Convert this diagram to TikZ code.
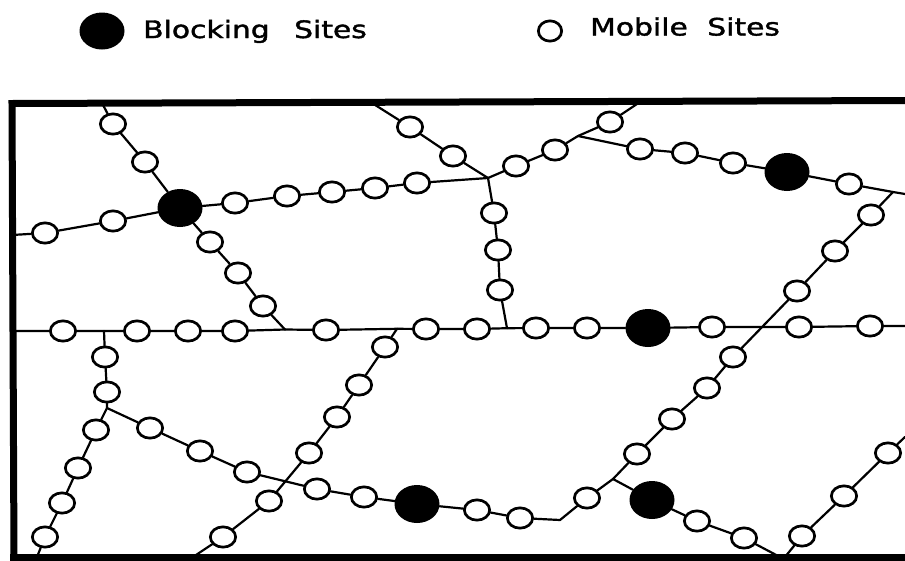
\documentclass[tikz,border=0pt]{standalone}
\usepackage{fontspec}
\usetikzlibrary{shapes.geometric}
\newfontfamily\legendfont[FakeStretch=1.24,FakeBold=1.6]{DejaVu Sans}
\begin{document}
\begin{tikzpicture}[x=1pt,y=-1pt,
  mob/.style={ellipse,draw=black,fill=white,line width=2.7pt,inner sep=0pt,
              minimum width=25.3pt,minimum height=20.3pt},
  blk/.style={ellipse,fill=black,inner sep=0pt,minimum width=45pt,minimum height=38pt},
  wire/.style={line width=2.2pt,line cap=round,line join=round},
  frame/.style={line width=7pt},
  legtext/.style={anchor=base west,inner sep=0pt,font=\legendfont\fontsize{24}{28}\selectfont}]
\useasboundingbox (0,0) rectangle (905,560);

% ---- legend ----
\node[blk,minimum height=37pt] (lb) at (102,31) {};
\node[legtext] (lbt) at (143,38) {Blocking\hspace{15pt} Sites};
\node[mob,minimum width=23.3pt] (lm) at (550,31) {};
\node[legtext] (lmt) at (590,35.5) {Mobile\hspace{10pt} Sites};

% ---- blocking sites ----
\node[blk] (b1) at (180,208) {};
\node[blk] (b2) at (787,172) {};
\node[blk] (b3) at (648,328) {};
\node[blk] (b4) at (417,504) {};
\node[blk] (b5) at (652,500) {};

% ---- mobile sites ----
\foreach \n/\x/\y in {
  a1/113/124, a2/145/162, a3/45/233, a4/113/221,
  a5/235/203, a6/287/196, a7/332/192, a8/375/188, a9/417/183,
  a10/210/242, a11/238/273, a12/263/306,
  a13/410/127, a14/453/156,
  a15/494/213, a16/498/250, a17/500/290,
  a18/516/166, a19/555/150, a20/610/122,
  a21/640/149, a22/685/153, a23/733/163, a24/849/184,
  a25/63/331, a26/137/331, a27/188/331, a28/235/331, a29/326/330,
  a30/426/329, a31/477/329, a32/536/328, a33/587/328,
  a34/712/327, a35/799/327, a36/870/326,
  a37/871/215, a38/835/251, a39/797/291, a40/733/357, a41/707/388,
  a42/672/419, a43/637/454, a44/587/498, a45/520/518, a46/477/510,
  a47/364/497, a48/317/489, a49/247/472, a50/200/451, a51/150/428,
  a52/105/357, a53/107/392,
  a54/96/430, a55/78/468, a56/62/503, a57/45/537,
  a58/385/347, a59/359/385, a60/337/417, a61/309/453, a62/269/501, a63/223/537,
  a64/697/521, a65/744/538,
  a66/802/536, a67/844/496, a68/888/453}
  \node[mob] (\n) at (\x,\y) {};

% ---- junctions, bends and frame ends ----
\coordinate (j1) at (488,178);
\coordinate (j2) at (285,329.5);
\coordinate (j3) at (507,328.2);
\coordinate (j4) at (578,136);
\coordinate (j5) at (893,192);
\coordinate (j6) at (104,331);
\coordinate (j7) at (397,328.8);
\coordinate (j8) at (613,479);
\coordinate (j9) at (107,408);
\coordinate (k1) at (560,520);
\coordinate (e1) at (102,103);
\coordinate (e2) at (12,235);
\coordinate (e3) at (372,103);
\coordinate (e4) at (640,102);
\coordinate (e5) at (905,194);
\coordinate (e6) at (12,331);
\coordinate (e7) at (905,326);
\coordinate (e8) at (37,557);
\coordinate (e9) at (193,557);
\coordinate (e10) at (780,557);
\coordinate (e11) at (785,557);
\coordinate (e12) at (905,437);

% ---- chains of sites ----
\draw[wire] (e1) -- (a1) -- (a2) -- (b1);
\draw[wire] (e2) -- (a3) -- (a4) -- (b1);
\draw[wire] (b1) -- (a5) -- (a6) -- (a7) -- (a8) -- (a9) -- (j1);
\draw[wire] (b1) -- (a10) -- (a11) -- (a12) -- (j2);
\draw[wire] (e3) -- (a13) -- (a14) -- (j1);
\draw[wire] (j1) -- (a15) -- (a16) -- (a17) -- (j3);
\draw[wire] (j1) -- (a18) -- (a19) -- (j4) -- (a20) -- (e4);
\draw[wire] (j4) -- (a21) -- (a22) -- (a23) -- (b2) -- (a24) -- (j5) -- (e5);
\draw[wire] (e6) -- (a25) -- (j6) -- (a26) -- (a27) -- (a28) -- (j2) -- (a29)
  -- (j7) -- (a30) -- (a31) -- (j3) -- (a32) -- (a33) -- (b3) -- (a34)
  -- (a35) -- (a36) -- (e7);
\draw[wire] (j5) -- (a37) -- (a38) -- (a39) -- (a40) -- (a41) -- (a42) -- (a43)
  -- (j8) -- (a44) -- (k1) -- (a45) -- (a46) -- (b4) -- (a47) -- (a48)
  -- (a49) -- (a50) -- (a51) -- (j9);
\draw[wire] (j6) -- (a52) -- (a53) -- (j9);
\draw[wire] (j9) -- (a54) -- (a55) -- (a56) -- (a57) -- (e8);
\draw[wire] (j7) -- (a58) -- (a59) -- (a60) -- (a61) -- (a62) -- (a63) -- (e9);
\draw[wire] (j8) -- (b5) -- (a64) -- (a65) -- (e10);
\draw[wire] (e11) -- (a66) -- (a67) -- (a68) -- (e12);

% ---- frame ----
\draw[frame] (905,100.5) -- (12,103.5) -- (14,560);
\draw[frame] (10,557) -- (905,557);
\end{tikzpicture}
\end{document}
